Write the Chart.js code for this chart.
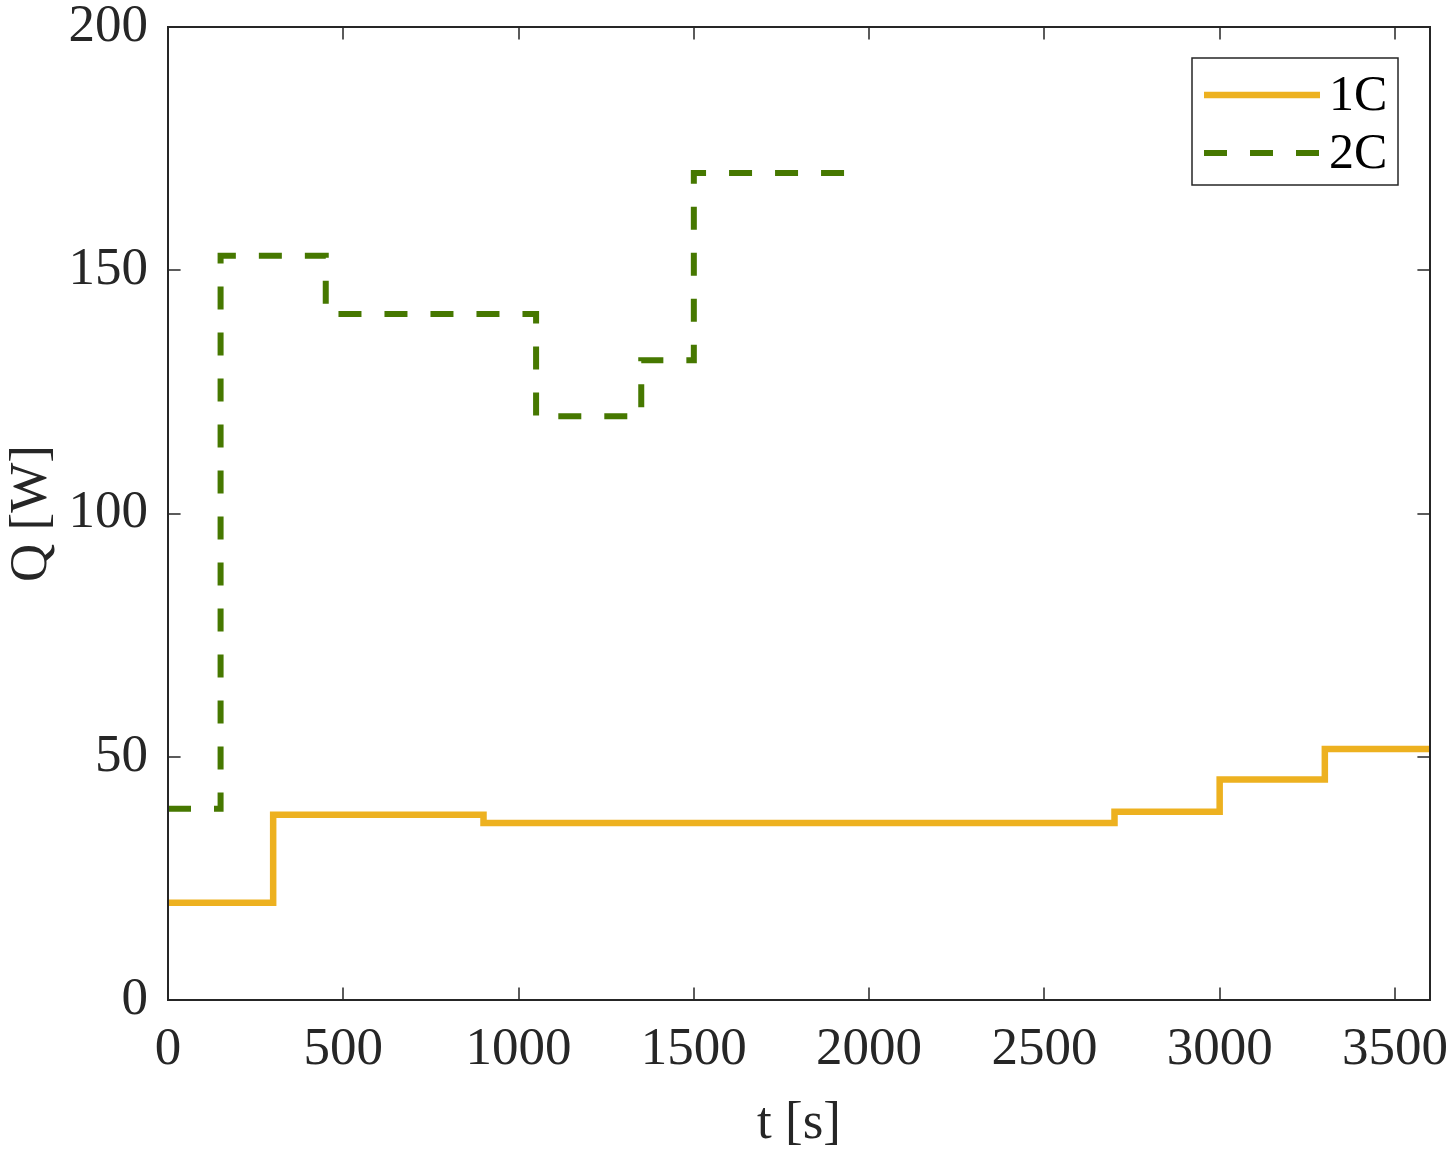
<!DOCTYPE html>
<html><head><meta charset="utf-8">
<script src="https://cdn.jsdelivr.net/npm/chart.js@4"></script>
<style>html,body{margin:0;padding:0;background:#fff}#wrap{width:1453px;height:1156px;position:relative}</style>
</head><body><div id="wrap"><canvas id="c"></canvas></div>
<script>
const xTicks = [0, 500, 1000, 1500, 2000, 2500, 3000, 3500];
const yTicks = [0, 50, 100, 150, 200];
const t1C = [0, 300, 900, 2700, 3000, 3300, 3600];
const q1C = [20, 38.1, 36.4, 38.7, 45.3, 51.6, 51.6];
const t2C = [0, 150, 450, 1050, 1350, 1500, 1960];
const q2C = [39.3, 153, 141, 120, 131.5, 170, 170];
const seriesLabels = ['1C', '2C'];
const xTitle = 't [s]';
const yTitle = 'Q [W]';

const FONT = "'Liberation Serif', 'Times New Roman', serif";
const INK = '#262626';
const tickFont = { family: FONT, size: 53 };

const framePlugin = {
  id: 'frame',
  afterDatasetsDraw(chart) {
    const { ctx, chartArea: a, scales: { x, y } } = chart;
    ctx.save();
    ctx.strokeStyle = INK;
    ctx.lineWidth = 2;
    ctx.lineCap = 'butt';
    ctx.strokeRect(a.left, a.top, a.right - a.left, a.bottom - a.top);
    ctx.lineWidth = 1.5;
    const L = 12.6;
    ctx.beginPath();
    xTicks.forEach(v => {
      const px = Math.round(x.getPixelForValue(v));
      ctx.moveTo(px, a.bottom); ctx.lineTo(px, a.bottom - L);
      ctx.moveTo(px, a.top); ctx.lineTo(px, a.top + L);
    });
    yTicks.forEach(v => {
      const py = Math.round(y.getPixelForValue(v));
      ctx.moveTo(a.left, py); ctx.lineTo(a.left + L, py);
      ctx.moveTo(a.right, py); ctx.lineTo(a.right - L, py);
    });
    ctx.stroke();
    ctx.restore();
  }
};

const legendPlugin = {
  id: 'mlegend',
  afterDraw(chart) {
    const { ctx } = chart;
    const bx = 1192, by = 58, bw = 206, bh = 127;
    ctx.save();
    ctx.fillStyle = '#fff';
    ctx.fillRect(bx, by, bw, bh);
    ctx.strokeStyle = INK;
    ctx.lineWidth = 1.5;
    ctx.strokeRect(bx, by, bw, bh);
    const rows = [95, 153];
    chart.data.datasets.forEach((ds, i) => {
      const yy = rows[i];
      ctx.strokeStyle = ds.borderColor;
      ctx.lineWidth = ds.borderWidth;
      ctx.setLineDash(ds.borderDash || []);
      ctx.beginPath();
      ctx.moveTo(1204, yy); ctx.lineTo(1320, yy);
      ctx.stroke();
      ctx.setLineDash([]);
      ctx.fillStyle = '#000';
      ctx.font = "50px " + FONT;
      ctx.textBaseline = 'middle';
      ctx.textAlign = 'left';
      ctx.fillText(ds.label, 1329, yy + 2);
    });
    ctx.restore();
  }
};

new Chart(document.getElementById('c'), {
  type: 'line',
  data: {
    datasets: [
      {
        label: seriesLabels[0],
        data: t1C.map((t, i) => ({ x: t, y: q1C[i] })),
        borderColor: '#EDB120',
        borderWidth: 6.5,
        stepped: true,
        pointRadius: 0,
        fill: false
      },
      {
        label: seriesLabels[1],
        data: t2C.map((t, i) => ({ x: t, y: q2C[i] })),
        borderColor: '#467800',
        borderWidth: 6,
        borderDash: [23, 23],
        stepped: true,
        pointRadius: 0,
        fill: false
      }
    ]
  },
  options: {
    responsive: true,
    maintainAspectRatio: false,
    animation: false,
    layout: { padding: { left: 0, right: 23, top: 27, bottom: 0 } },
    plugins: { legend: { display: false }, tooltip: { enabled: false } },
    scales: {
      x: {
        type: 'linear', min: 0, max: 3600,
        afterBuildTicks: s => { s.ticks = xTicks.map(v => ({ value: v })); },
        ticks: { font: tickFont, color: INK, padding: 18, maxRotation: 0, autoSkip: false, callback: v => String(v) },
        grid: { display: false, drawTicks: false },
        border: { display: false },
        title: { display: true, text: xTitle, font: tickFont, color: INK, padding: { top: 0, bottom: 0 } },
        afterFit: s => { s.height = 156; s.paddingLeft = 0; s.paddingRight = 0; s.paddingTop = 0; s.paddingBottom = 0; }
      },
      y: {
        type: 'linear', min: 0, max: 200,
        afterBuildTicks: s => { s.ticks = yTicks.map(v => ({ value: v })); },
        ticks: { font: tickFont, color: INK, padding: 20, autoSkip: false, callback: v => String(v) },
        grid: { display: false, drawTicks: false },
        border: { display: false },
        title: { display: true, text: yTitle, font: tickFont, color: INK, padding: { top: 0, bottom: 4 } },
        afterFit: s => { s.width = 168; s.paddingLeft = 0; s.paddingRight = 0; s.paddingTop = 0; s.paddingBottom = 0; }
      }
    }
  },
  plugins: [framePlugin, legendPlugin]
});
</script>
</body></html>
